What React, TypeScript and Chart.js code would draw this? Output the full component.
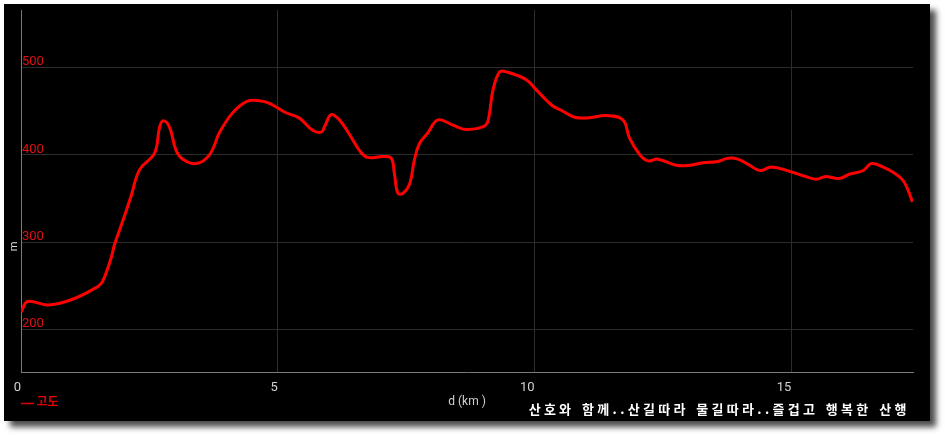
import React, { useEffect, useRef } from 'react';
import { Chart, registerables } from 'chart.js';

Chart.register(...registerables);

// distance along the route (km)
const distanceKm = [
  0.0, 0.13, 0.52, 0.98, 1.49, 1.59, 1.76, 1.82, 2.01, 2.14, 2.31, 2.6, 2.7, 2.77, 2.89, 3.02,
  3.15, 3.41, 3.67, 3.87, 4.12, 4.39, 4.64, 4.84, 5.13, 5.42, 5.68, 5.85, 5.91, 6.04, 6.2, 6.4,
  6.59, 6.75, 7.05, 7.21, 7.27, 7.34, 7.44, 7.57, 7.66, 7.76, 7.92, 8.12, 8.41, 8.67, 8.99, 9.09,
  9.19, 9.32, 9.45, 9.84, 10.04, 10.33, 10.52, 10.78, 11.07, 11.4, 11.72, 11.85, 12.05, 12.21,
  12.4, 12.76, 13.02, 13.28, 13.54, 13.77, 13.96, 14.16, 14.39, 14.61, 14.97, 15.23, 15.49,
  15.65, 15.94, 16.14, 16.4, 16.56, 16.79, 16.98, 17.17, 17.27, 17.36,
];

// elevation (m)
const elevationM = [
  220, 232, 228, 234, 249, 255, 283, 297, 329, 352, 383, 402, 432, 439, 432, 405,
  395, 390, 400, 426, 448, 461, 462, 459, 449, 442, 428, 426, 432, 446, 440, 423,
  405, 397, 398, 396, 379, 356, 356, 367, 394, 413, 425, 440, 434, 429, 432, 438,
  474, 495, 495, 486, 474, 457, 451, 443, 442.5, 445, 440, 419, 400, 393,
  395, 388, 388, 391, 392, 396, 395, 389, 382, 386, 381, 376, 372,
  375, 373, 378, 382, 390, 386, 380, 371, 360, 346,
];

const xTickValues = [0, 5, 10, 15];
const yTickValues = [200, 300, 400, 500];

const seriesLabel = '고도';
const xTitle = 'd (km )';
const yTitle = 'm';
const watermark = '산호와 함께..산길따라 물길따라..즐겁고 행복한 산행';

const extraText = {
  id: 'extraText',
  afterDraw(chart: any) {
    const ctx = chart.ctx as CanvasRenderingContext2D;
    ctx.save();
    // y-axis title
    ctx.translate(14.7, 246.4);
    ctx.rotate(-Math.PI / 2);
    ctx.font = '11px Roboto';
    ctx.fillStyle = '#dddddd';
    ctx.textAlign = 'center';
    ctx.textBaseline = 'middle';
    ctx.fillText(yTitle, 0, 0);
    ctx.restore();

    // legend
    ctx.save();
    ctx.strokeStyle = '#e00000';
    ctx.lineWidth = 1.5;
    ctx.beginPath();
    ctx.moveTo(21, 403.5);
    ctx.lineTo(34, 403.5);
    ctx.stroke();
    ctx.font = 'bold 12px "Noto Sans CJK KR"';
    ctx.fillStyle = '#e00000';
    ctx.textAlign = 'left';
    ctx.textBaseline = 'middle';
    ctx.fillText(seriesLabel, 36.5, 401);
    ctx.restore();

    // watermark (monospace-like grid)
    ctx.save();
    ctx.font = 'bold 13px "Noto Sans CJK KR"';
    ctx.fillStyle = '#ffffff';
    ctx.textAlign = 'center';
    ctx.textBaseline = 'middle';
    const unit = 7.62;
    let x = 527;
    for (const ch of watermark) {
      const w = ch.charCodeAt(0) > 255 ? unit * 2 : unit;
      if (ch !== ' ') ctx.fillText(ch, x + w / 2, 409.5);
      x += w;
    }
    ctx.restore();
  },
};

export default function App() {
  const ref = useRef<HTMLCanvasElement | null>(null);

  useEffect(() => {
    if (!ref.current) return;
    const data = distanceKm.map((d, i) => ({ x: d, y: elevationM[i] }));
    const chart = new Chart(ref.current, {
      type: 'line',
      data: {
        datasets: [
          {
            label: seriesLabel,
            data,
            borderColor: '#ff0000',
            borderWidth: 3,
            pointRadius: 0,
            tension: 0.4,
            fill: false,
          },
        ],
      },
      options: {
        animation: false,
        responsive: false,
        devicePixelRatio: 1,
        layout: { padding: { left: 21, right: 32, top: 10, bottom: 0 } },
        plugins: { legend: { display: false }, tooltip: { enabled: false } },
        scales: {
          x: {
            type: 'linear',
            min: 0,
            max: 17.37,
            afterBuildTicks: (ax: any) => {
              ax.ticks = xTickValues.map((v) => ({ value: v }));
            },
            afterFit: (s: any) => {
              s.height = 65;
              s.paddingLeft = 0;
              s.paddingRight = 0;
            },
            grid: { color: '#2c2c2c', drawTicks: false, lineWidth: 1 },
            border: { color: '#7a7a7a', width: 1 },
            ticks: {
              color: '#d0d0d0',
              font: { family: 'Roboto', size: 13 },
              align: 'end',
              padding: 8,
              maxRotation: 0,
              autoSkip: false,
            },
            title: {
              display: true,
              text: xTitle,
              color: '#d0d0d0',
              font: { family: 'Roboto', size: 12 },
              padding: { top: 0, bottom: 28 },
            },
          },
          y: {
            type: 'linear',
            min: 151.3,
            max: 565.8,
            afterBuildTicks: (ax: any) => {
              ax.ticks = yTickValues.map((v) => ({ value: v }));
            },
            afterFit: (s: any) => {
              s.width = 0;
              s.paddingTop = 0;
              s.paddingBottom = 0;
            },
            grid: { color: '#2c2c2c', drawTicks: false, lineWidth: 1 },
            border: { color: '#7a7a7a', width: 1 },
            ticks: {
              color: '#dd1111',
              font: { family: 'Roboto', size: 13 },
              mirror: true,
              padding: 1,
              align: 'end',
              labelOffset: 1,
            },
          },
        },
      },
      plugins: [extraText],
    } as any);
    return () => chart.destroy();
  }, []);

  return (
    <div style={{ position: 'fixed', left: 0, top: 0, width: 945, height: 437, background: '#ffffff', overflow: 'hidden' }}>
      <div
        style={{
          position: 'absolute',
          left: 4,
          top: 4,
          width: 926,
          height: 417,
          background: '#000000',
          boxShadow: '6px 6px 6px rgba(0,0,0,0.7)',
        }}
      />
      <canvas ref={ref} width={945} height={437} style={{ position: 'absolute', left: 0, top: 0, width: 945, height: 437 }} />
    </div>
  );
}
